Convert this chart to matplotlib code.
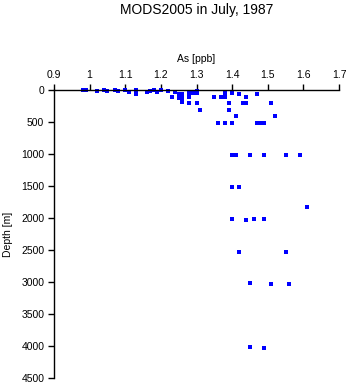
import matplotlib
matplotlib.use("Agg")
import matplotlib.pyplot as plt

plt.rcParams['font.family'] = ['Liberation Sans', 'DejaVu Sans']

arsenic = [0.98, 0.99, 1.02, 1.04, 1.05, 1.07, 1.08, 1.10, 1.11, 1.13, 1.13, 1.16,
           1.17, 1.18, 1.19, 1.20, 1.22, 1.24, 1.23, 1.25, 1.26, 1.25, 1.26, 1.26,
           1.28, 1.28, 1.28, 1.29, 1.30, 1.30, 1.30, 1.31, 1.35, 1.37, 1.38, 1.38,
           1.38, 1.40, 1.40, 1.39, 1.39, 1.41, 1.36, 1.38, 1.40, 1.42, 1.44, 1.43,
           1.44, 1.47, 1.51, 1.52, 1.47, 1.48, 1.49,
           1.40, 1.41, 1.45, 1.49, 1.55, 1.59, 1.40, 1.42, 1.61, 1.40, 1.44, 1.46,
           1.49, 1.42, 1.55, 1.45, 1.51, 1.56, 1.45, 1.49]
depth = [5, 5, 10, 5, 10, 5, 10, 5, 30, 5, 60, 30,
         10, 5, 30, 5, 10, 30, 115, 60, 60, 120, 120, 190,
         40, 115, 210, 50, 50, 10, 210, 310, 115, 115, 115, 30,
         60, 30, 50, 210, 310, 410, 515, 515, 515, 60, 115, 210,
         210, 60, 210, 410, 515, 515, 515,
         1020, 1020, 1020, 1020, 1010, 1020, 1520, 1520, 1833, 2020, 2030, 2020,
         2020, 2536, 2526, 3020, 3036, 3036, 4020, 4036]

x_ticks = [0.9, 1, 1.1, 1.2, 1.3, 1.4, 1.5, 1.6, 1.7]
x_tick_labels = ['0.9', '1', '1.1', '1.2', '1.3', '1.4', '1.5', '1.6', '1.7']
y_ticks = list(range(0, 5000, 500))

fig = plt.figure(figsize=(3.5, 3.84), dpi=100)
ax = fig.add_axes([54/350, 1 - 378/384, (339 - 54)/350, (378 - 90)/384])

ax.plot(arsenic, depth, linestyle='none', marker='s', ms=2.3, mew=0, color='#0000ff', clip_on=False)

ax.set_xlim(0.9, 1.7)
ax.set_ylim(4500, 0)
ax.xaxis.tick_top()
ax.xaxis.set_label_position('top')
ax.set_xticks(x_ticks)
ax.set_xticklabels(x_tick_labels)
ax.set_yticks(y_ticks)
ax.set_xlabel('As [ppb]', fontsize=7.5, labelpad=6)
ax.set_ylabel('Depth [m]', fontsize=7.5, labelpad=6)
ax.tick_params(axis='both', labelsize=7.5, width=1, length=4, color='black', direction='out', pad=3)
for s in ['right', 'bottom']:
    ax.spines[s].set_visible(False)
for s in ['left', 'top']:
    ax.spines[s].set_linewidth(1)

fig.text((54 + 339) / 2 / 350, 1 - 10 / 384, 'MODS2005 in July, 1987', ha='center', va='center', fontsize=10)

fig.savefig('out.png', dpi=100)
